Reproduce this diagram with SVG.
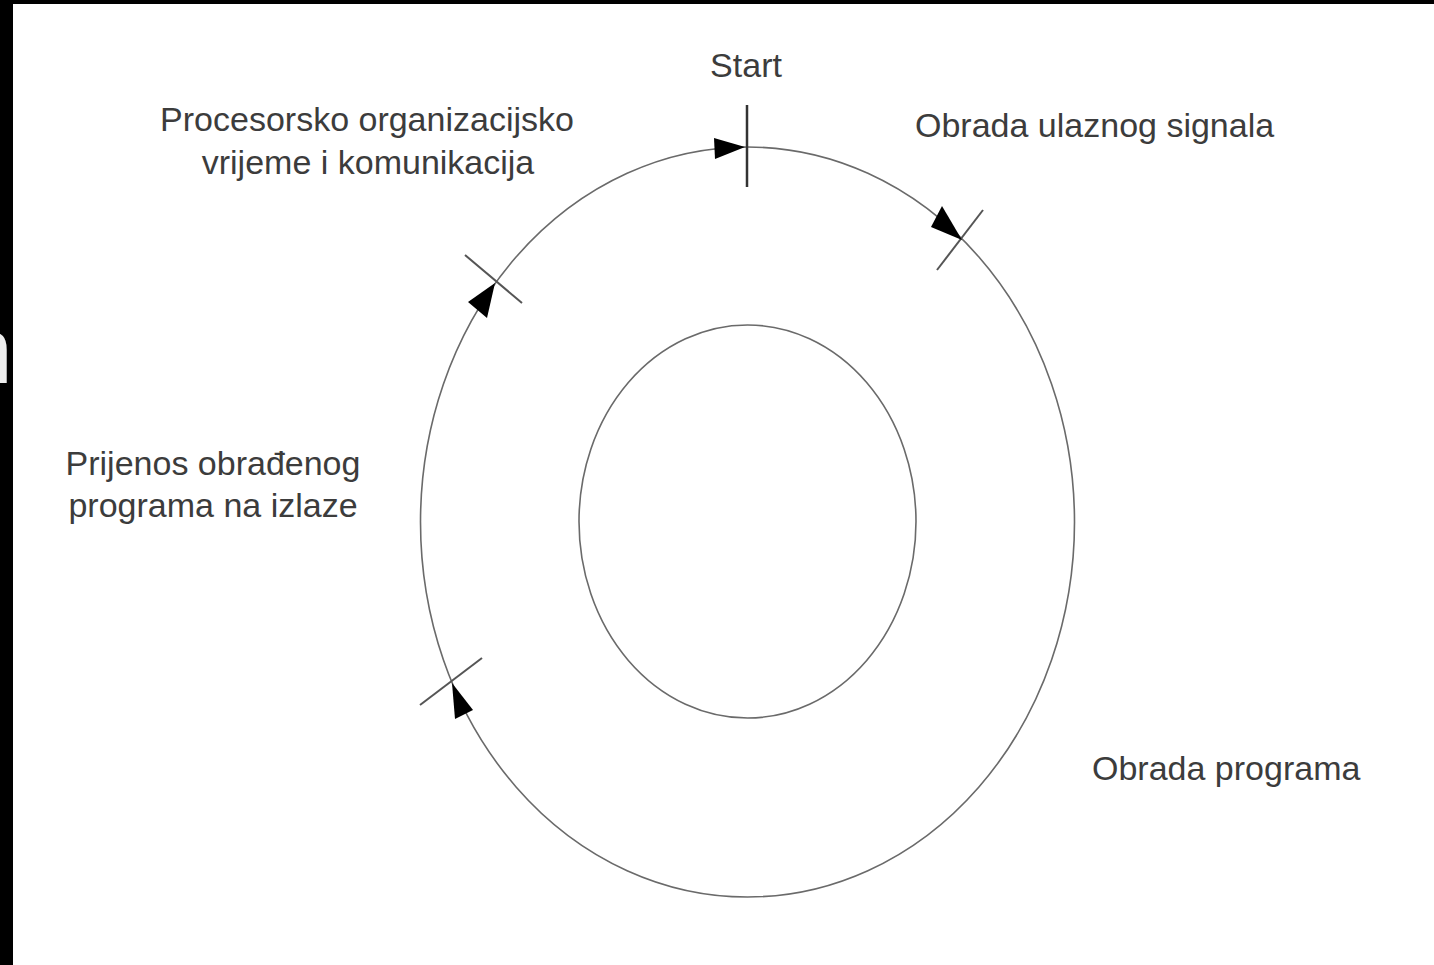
<svg xmlns="http://www.w3.org/2000/svg" width="1434" height="965" viewBox="0 0 1434 965">
  <style>
    .lbl { font-family: "Liberation Sans", Arial, sans-serif; font-size: 34px; fill: #3c3c3c; }
    .ring { fill: none; stroke: #6a6a6a; stroke-width: 1.6; }
    .tick { stroke: #555; stroke-width: 2; }
    .head { fill: #000; }
  </style>
  <rect x="0" y="0" width="1434" height="965" fill="#fff"/>
  <rect x="0" y="0" width="1434" height="4" fill="#000"/>
  <rect x="0" y="0" width="13" height="965" fill="#000"/>
  <text x="-40" y="383" font-family="'Liberation Sans', Arial, sans-serif" font-size="95" fill="#eee">n</text>

  <g id="outer-cycle">
    <ellipse class="ring" cx="747.5" cy="522" rx="327" ry="375"/>
  </g>
  <g id="inner-circle">
    <ellipse class="ring" cx="747.5" cy="521.5" rx="168.5" ry="196.5"/>
  </g>

  <g id="connectors">
    <line class="tick" x1="747" y1="105" x2="747" y2="187" style="stroke:#333;stroke-width:2.5"/>
    <line class="tick" x1="937" y1="270" x2="983" y2="210"/>
    <line class="tick" x1="465" y1="255" x2="522" y2="303"/>
    <line class="tick" x1="420" y1="705" x2="482" y2="658"/>
    <polygon class="head" points="745,147 714,138 715,159"/>
    <polygon class="head" points="962,240 942,206 931,227"/>
    <polygon class="head" points="495,283 468,302 487,318"/>
    <polygon class="head" points="452,683 455,719 473,710"/>
  </g>

  <g id="label-start">
    <text class="lbl" x="746" y="77" text-anchor="middle">Start</text>
  </g>
  <g id="label-obrada-ulaznog">
    <text class="lbl" x="915" y="137">Obrada ulaznog signala</text>
  </g>
  <g id="label-procesorsko">
    <text class="lbl" x="367" y="131" text-anchor="middle">Procesorsko organizacijsko</text>
    <text class="lbl" x="368" y="174" text-anchor="middle">vrijeme i komunikacija</text>
  </g>
  <g id="label-prijenos">
    <text class="lbl" x="213" y="475" text-anchor="middle">Prijenos obrađenog</text>
    <text class="lbl" x="213" y="517" text-anchor="middle">programa na izlaze</text>
  </g>
  <g id="label-obrada-programa">
    <text class="lbl" x="1092" y="780">Obrada programa</text>
  </g>
</svg>
